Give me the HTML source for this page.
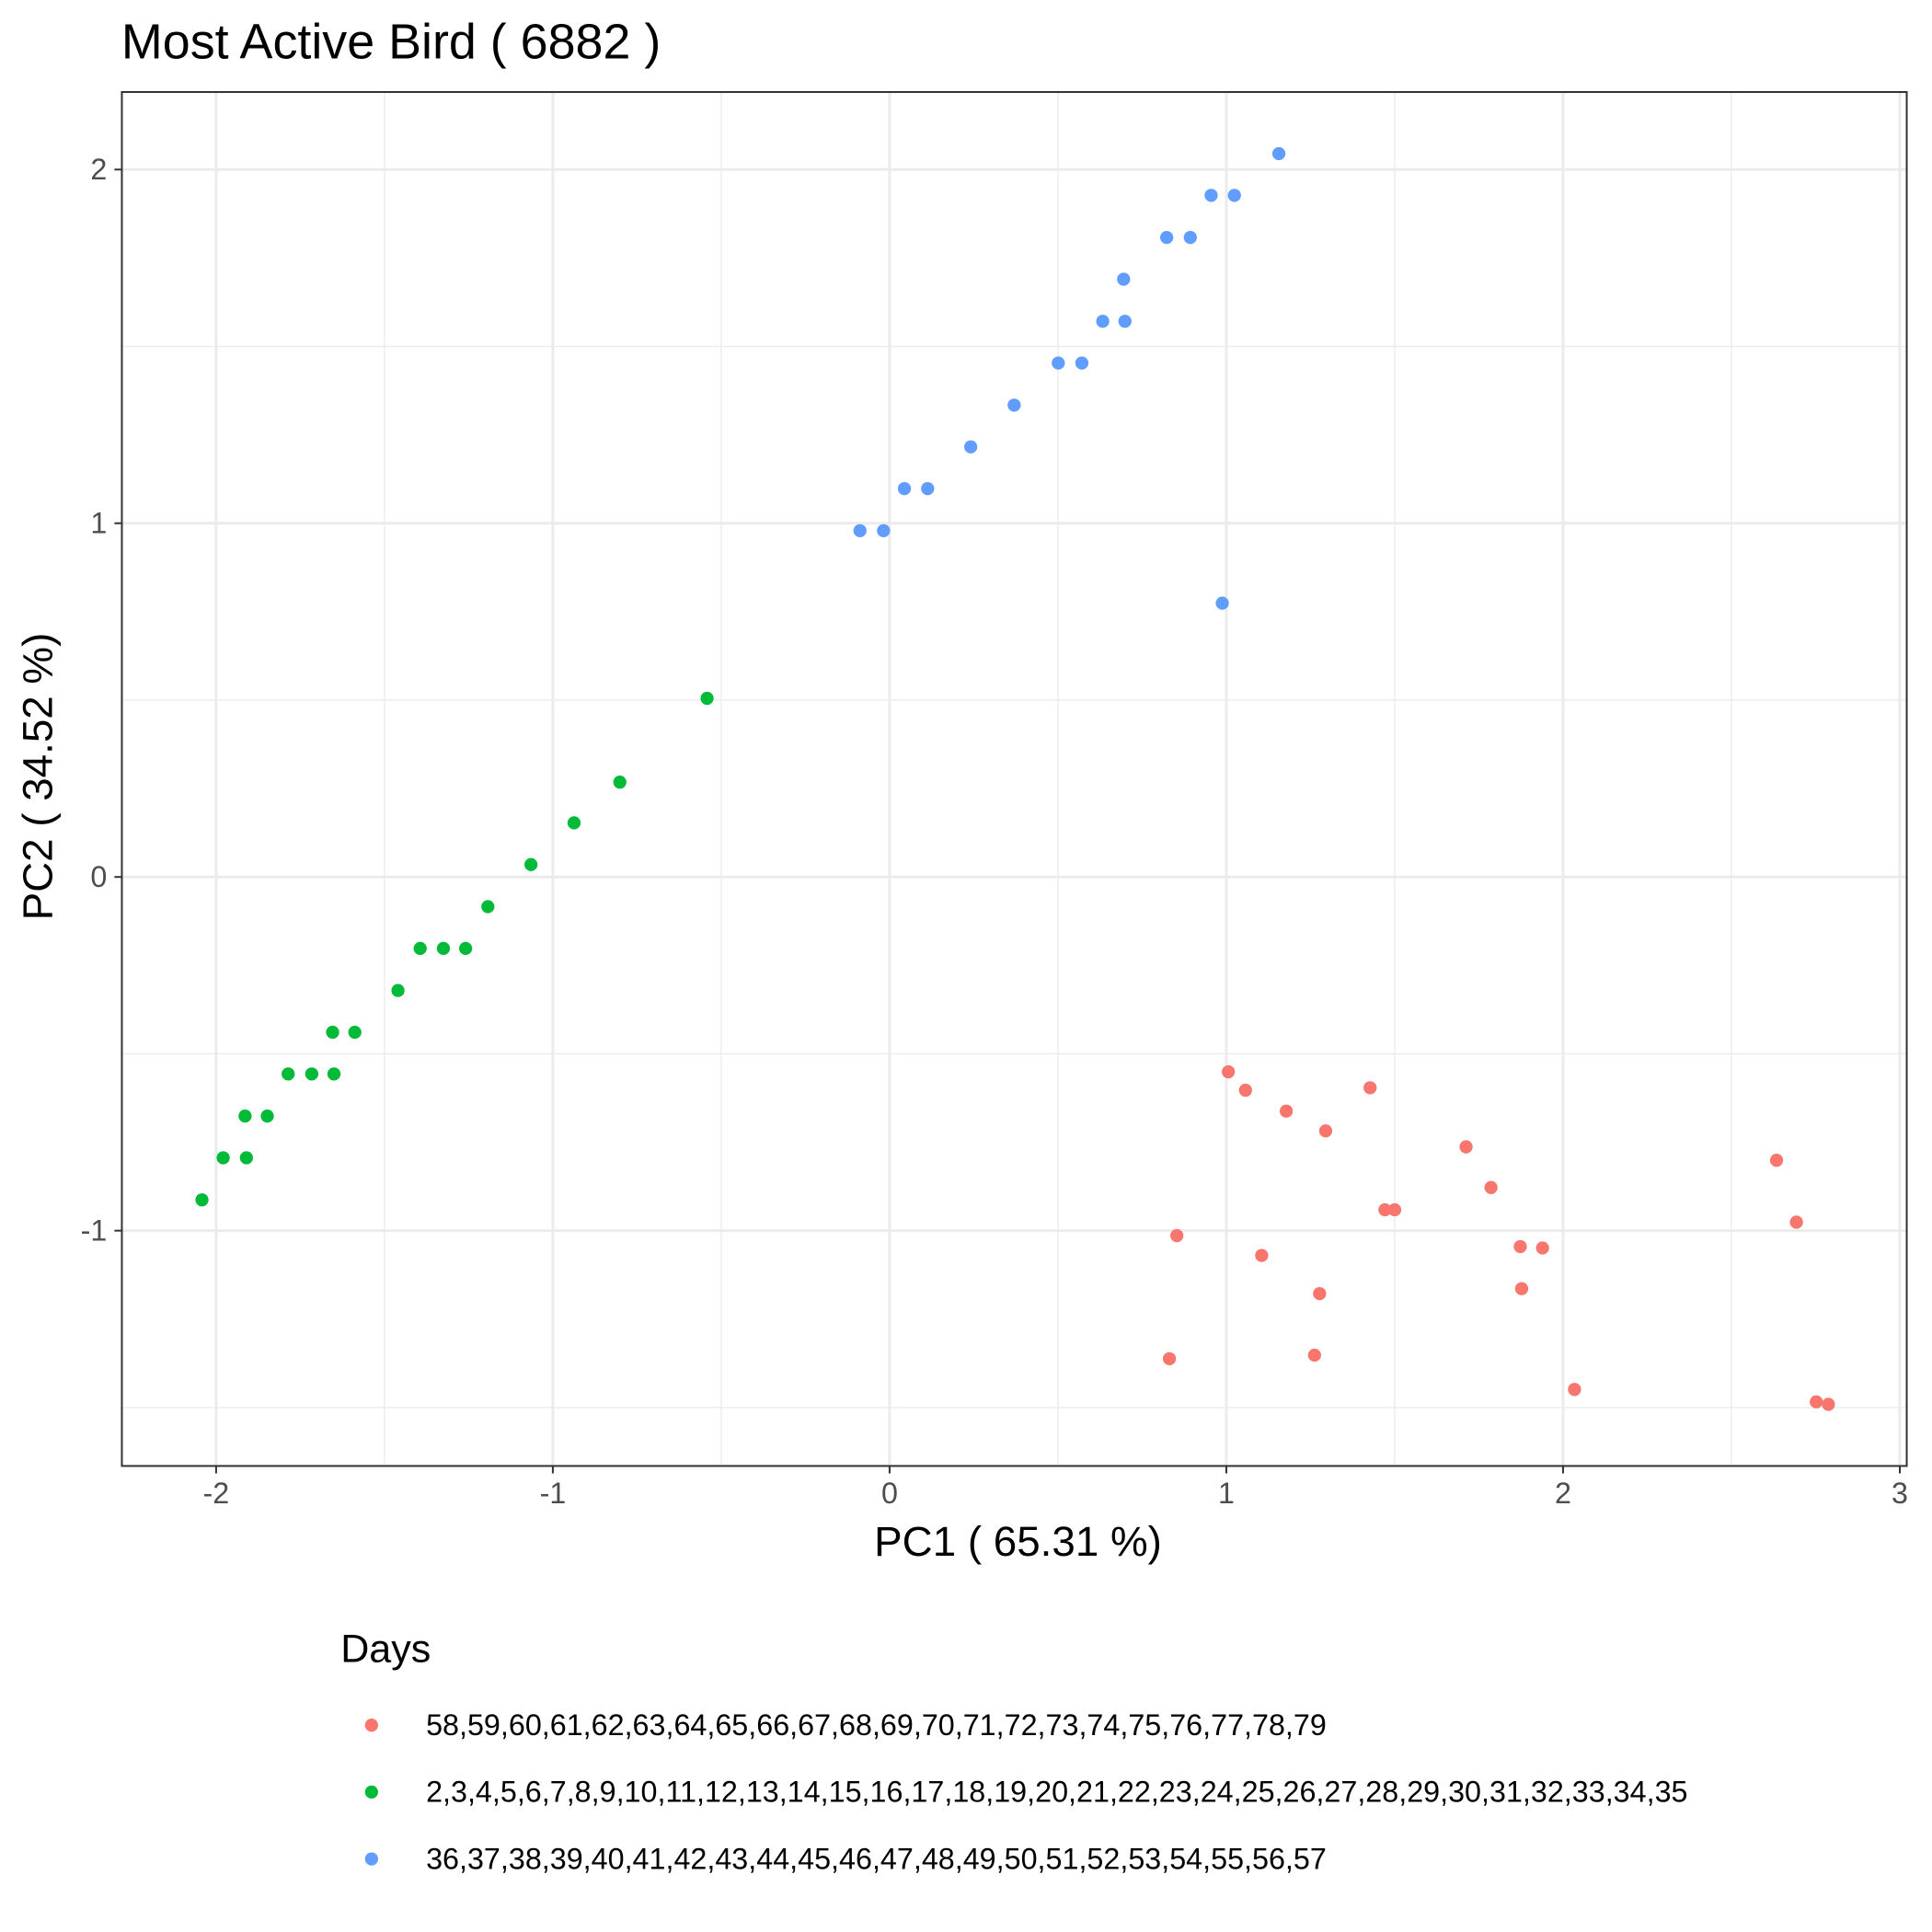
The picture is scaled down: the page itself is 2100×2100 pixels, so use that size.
<!DOCTYPE html>
<html><head><meta charset="utf-8"><style>
html,body{margin:0;padding:0;background:#fff;}
svg{display:block;font-family:"Liberation Sans",Arial,sans-serif;}
</style></head><body>
<svg id="chart" width="2100" height="2100" viewBox="0 0 1560 1560" xmlns="http://www.w3.org/2000/svg">
<rect width="1560" height="1560" fill="#fff"/>
<text x="98" y="47" font-size="40" fill="#000">Most Active Bird ( 6882 )</text>
<g id="grid"></g>
<g id="points"></g>
<rect x="98.4" y="74.3" width="1441.2" height="1109.4" fill="none" stroke="#333" stroke-width="1.5"/>
<g id="axes"></g>
<text x="822" y="1256" font-size="34" text-anchor="middle" fill="#000">PC1 ( 65.31 %)</text>
<text transform="translate(42,627) rotate(-90)" font-size="34" text-anchor="middle" fill="#000">PC2 ( 34.52 %)</text>
<text x="275" y="1342" font-size="32" fill="#000">Days</text>
<g id="legend"></g>
</svg>
<script>
const groupColors = ["#F8766D", "#00BA38", "#619CFF"];
const groupLabels = ["58,59,60,61,62,63,64,65,66,67,68,69,70,71,72,73,74,75,76,77,78,79",
 "2,3,4,5,6,7,8,9,10,11,12,13,14,15,16,17,18,19,20,21,22,23,24,25,26,27,28,29,30,31,32,33,34,35",
 "36,37,38,39,40,41,42,43,44,45,46,47,48,49,50,51,52,53,54,55,56,57"];
const redX = [1.006,1.057,1.427,1.178,1.295,1.712,2.634,1.786,1.471,1.500,2.693,0.853,1.873,1.939,1.105,1.277,1.877,0.831,1.262,2.034,2.752,2.788];
const redY = [-0.551,-0.603,-0.596,-0.662,-0.718,-0.763,-0.801,-0.878,-0.941,-0.941,-0.976,-1.014,-1.045,-1.049,-1.070,-1.178,-1.164,-1.362,-1.352,-1.449,-1.484,-1.491];
const greenX = [-0.542,-0.801,-0.937,-1.065,-1.193,-1.394,-1.325,-1.259,-1.460,-1.654,-1.588,-1.786,-1.716,-1.650,-1.914,-1.848,-1.979,-1.910,-2.042];
const greenY = [0.505,0.268,0.153,0.035,-0.084,-0.202,-0.202,-0.202,-0.321,-0.439,-0.439,-0.557,-0.557,-0.557,-0.676,-0.676,-0.794,-0.794,-0.913];
const blueX = [1.156,0.955,1.024,0.823,0.893,0.695,0.633,0.699,0.501,0.571,0.370,0.241,0.044,0.113,-0.088,-0.018,0.988];
const blueY = [2.045,1.927,1.927,1.808,1.808,1.690,1.571,1.571,1.453,1.453,1.334,1.216,1.098,1.098,0.979,0.979,0.774];
const xTicks = [-2,-1,0,1,2,3];
const yTicks = [-1,0,1,2];
const xMinor = [-1.5,-0.5,0.5,1.5,2.5];
const yMinor = [-1.5,-0.5,0.5,1.5];

const NS="http://www.w3.org/2000/svg";
const L=98.4,R=1539.6,T=74.3,B=1183.7;
const sx=v=>718.3+v*271.9;
const sy=v=>708.1-v*285.6;
function mk(tag,attrs,parent){const e=document.createElementNS(NS,tag);for(const k in attrs)e.setAttribute(k,attrs[k]);parent.appendChild(e);return e;}
const grid=document.getElementById('grid'),pts=document.getElementById('points'),axes=document.getElementById('axes'),leg=document.getElementById('legend');
xMinor.forEach(v=>{const e=mk('line',{x1:sx(v),x2:sx(v),y1:T,y2:B,stroke:'#ebebeb','stroke-width':1},grid);

});
yMinor.forEach(v=>{const e=mk('line',{x1:L,x2:R,y1:sy(v),y2:sy(v),stroke:'#ebebeb','stroke-width':1},grid);

});
xTicks.forEach(v=>{const e=mk('line',{x1:sx(v),x2:sx(v),y1:T,y2:B,stroke:'#ebebeb','stroke-width':2.2},grid);


const t=mk('line',{x1:sx(v),x2:sx(v),y1:B,y2:B+6,stroke:'#333','stroke-width':1.5},axes);


const l=mk('text',{x:sx(v),y:B+30,'font-size':24,'text-anchor':'middle',fill:'#4d4d4d'},axes);l.textContent=v;

});
yTicks.forEach(v=>{const e=mk('line',{x1:L,x2:R,y1:sy(v),y2:sy(v),stroke:'#ebebeb','stroke-width':2.2},grid);


const t=mk('line',{x1:L-6,x2:L,y1:sy(v),y2:sy(v),stroke:'#333','stroke-width':1.5},axes);


const l=mk('text',{x:L-12,y:sy(v)+8,'font-size':24,'text-anchor':'end',fill:'#4d4d4d'},axes);l.textContent=v;

});
const series=[[redX,redY],[greenX,greenY],[blueX,blueY]];
series.forEach((s,g)=>{s[0].forEach((x,i)=>{const c=mk('circle',{cx:sx(x),cy:sy(s[1][i]),r:5.3,fill:groupColors[g]},pts);

});});
groupLabels.forEach((lab,i)=>{const y=1393+i*54;
const c=mk('circle',{cx:300,cy:y,r:5.3,fill:groupColors[i]},leg);


const t=mk('text',{x:344,y:y+8,'font-size':24,fill:'#000'},leg);t.textContent=lab;

});
</script>
</body></html>
